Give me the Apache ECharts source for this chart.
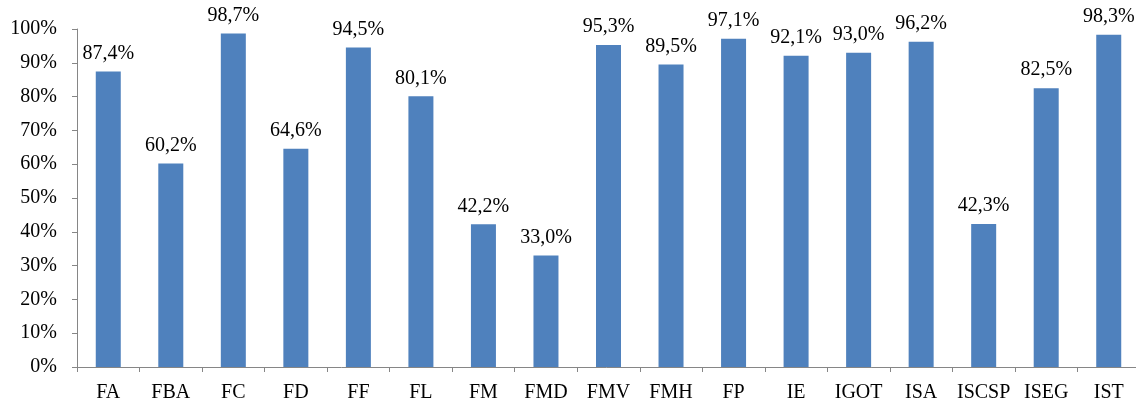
<!DOCTYPE html>
<html>
<head>
<meta charset="utf-8">
<script src="https://cdn.jsdelivr.net/npm/echarts@6/dist/echarts.min.js"></script>
<style>
  html, body { margin: 0; padding: 0; background: #fff; }
  #chart { width: 1136px; height: 399px; }
</style>
</head>
<body>
<div id="chart"></div>
<script>
// categories (faculties) and percentages
const categories = ["FA", "FBA", "FC", "FD", "FF", "FL", "FM", "FMD", "FMV", "FMH", "FP", "IE", "IGOT", "ISA", "ISCSP", "ISEG", "IST"]
const values = [87.4, 60.2, 98.7, 64.6, 94.5, 80.1, 42.2, 33.0, 95.3, 89.5, 97.1, 92.1, 93.0, 96.2, 42.3, 82.5, 98.3]
const yTicks = [0, 10, 20, 30, 40, 50, 60, 70, 80, 90, 100]

const font = "'Liberation Serif', 'Times New Roman', serif"
const axisGray = "#868686"

const chart = echarts.init(document.getElementById("chart"))

const option = {
  animation: false,
  grid: {
    left: 77,
    top: 29,
    width: 1063,
    bottom: 32,
    containLabel: false,
    outerBoundsMode: "none",
  },
  xAxis: {
    type: "category",
    data: categories,
    axisLine: { lineStyle: { color: axisGray, width: 1 } },
    axisTick: { show: true, length: 5, lineStyle: { color: axisGray } },
    axisLabel: {
      color: "#000",
      fontFamily: font,
      fontSize: 20,
      margin: 16,
      interval: 0,
    },
  },
  yAxis: {
    type: "value",
    min: yTicks[0],
    max: yTicks[yTicks.length - 1],
    interval: 10,
    splitLine: { show: false },
    axisLine: { show: true, lineStyle: { color: axisGray, width: 1 } },
    axisTick: { show: true, length: 5, lineStyle: { color: axisGray } },
    axisLabel: {
      color: "#000",
      fontFamily: font,
      fontSize: 20,
      margin: 20,
      formatter: (v) => v + "%",
    },
  },
  series: [
    {
      type: "bar",
      data: values,
      barWidth: 25,
      itemStyle: { color: "#4F81BD" },
      label: {
        show: true,
        position: "top",
        distance: 8,
        color: "#000",
        fontFamily: font,
        fontSize: 20,
        formatter: (p) => p.value.toFixed(1).replace(".", ",") + "%",
      },
    },
  ],
}

chart.setOption(option)
</script>
</body>
</html>
